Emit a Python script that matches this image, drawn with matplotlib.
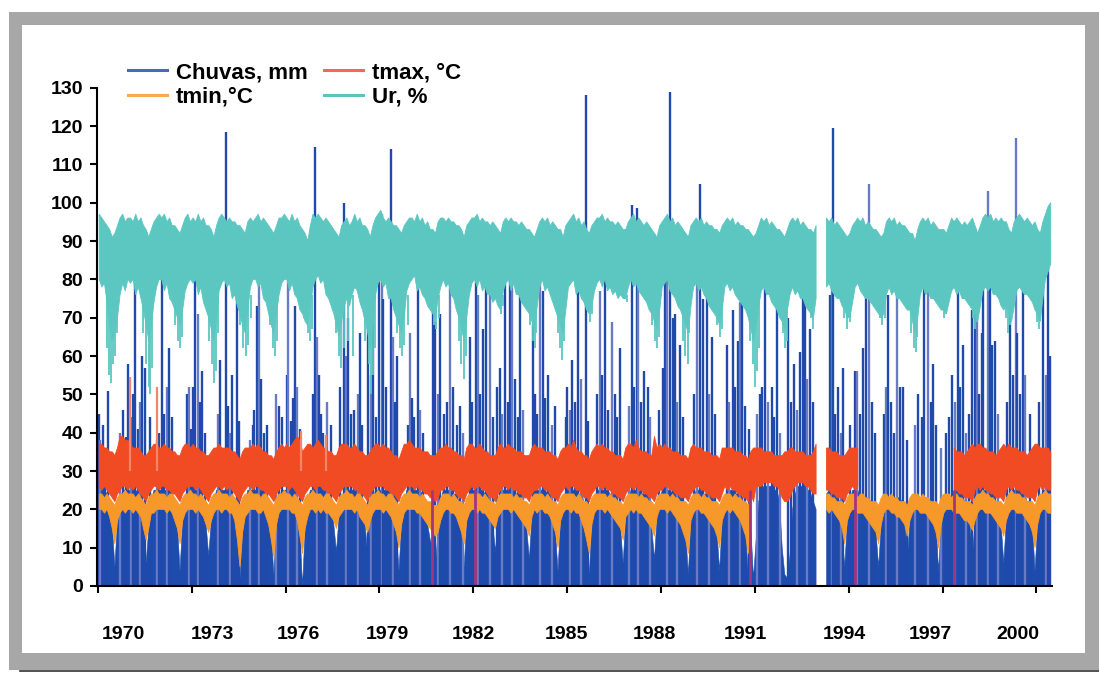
import numpy as np
import matplotlib.pyplot as plt
from matplotlib.patches import Rectangle
from matplotlib.lines import Line2D

plt.rcParams['font.family'] = ['Liberation Sans', 'DejaVu Sans']
plt.rcParams['font.weight'] = 'bold'

nan = np.nan

# monthly envelopes, one row per year (1970 ... 2000, last row jan-jun)
ur_low = [
    [80, 78, 79, 74, 68, 64, 66, 70, 76, 79, 77, 80],
    [79, 80, 76, 78, 75, 72, 68, 64, 68, 74, 78, 80],
    [80, 77, 79, 75, 74, 72, 70, 68, 72, 77, 79, 80],
    [79, 80, 76, 78, 74, 72, 70, 67, 64, 70, 77, 79],
    [80, 78, 79, 75, 76, 73, 71, 68, 66, 72, 78, 80],
    [80, 78, 79, 75, 74, 71, 68, 66, 71, 76, 79, 80],
    [80, 77, 79, 76, 75, 72, 71, 69, 68, 73, 78, 80],
    [81, 79, 80, 76, 75, 73, 71, 68, 65, 69, 73, 75],
    [73, 76, 78, 77, 74, 72, 69, 66, 62, 68, 76, 79],
    [80, 78, 79, 75, 75, 72, 70, 68, 66, 70, 77, 79],
    [80, 81, 77, 78, 76, 75, 73, 72, 71, 70, 75, 78],
    [80, 78, 79, 76, 75, 72, 70, 67, 64, 70, 76, 79],
    [80, 78, 80, 77, 78, 76, 76, 74, 75, 73, 72, 77],
    [79, 80, 77, 79, 76, 76, 74, 73, 72, 71, 69, 67],
    [73, 78, 80, 77, 78, 76, 74, 72, 70, 68, 66, 72],
    [78, 79, 80, 76, 77, 75, 74, 72, 71, 73, 77, 79],
    [80, 78, 80, 77, 78, 76, 77, 75, 76, 75, 75, 78],
    [80, 78, 79, 77, 76, 75, 74, 72, 71, 69, 67, 72],
    [78, 79, 80, 77, 76, 75, 73, 72, 70, 68, 66, 73],
    [78, 79, 77, 78, 76, 75, 73, 72, 71, 70, 68, 72],
    [78, 79, 77, 78, 76, 75, 74, 73, 72, 70, 67, 64],
    [68, 73, 77, 78, 76, 76, 74, 73, 72, 70, 69, 67],
    [72, 76, 78, 76, 77, 75, 75, 73, 72, 71, 70, 75],
    [nan, nan, nan, 78, 79, 77, 76, 75, 75, 73, 72, 70],
    [70, 74, 78, 79, 77, 76, 75, 75, 74, 73, 72, 71],
    [70, 71, 76, 78, 76, 77, 75, 75, 74, 73, 72, 72],
    [69, 66, 70, 76, 78, 76, 77, 75, 75, 74, 73, 72],
    [72, 71, 74, 77, 78, 76, 77, 75, 75, 74, 73, 72],
    [71, 69, 73, 77, 78, 77, 78, 76, 76, 75, 73, 72],
    [73, 71, 69, 73, 77, 78, 77, 76, 76, 75, 74, 72],
    [71, 69, 75, 80, 82, 84],
]
ur_high = [
    [97, 96, 95, 94, 93, 91, 92, 94, 96, 97, 95, 96],
    [96, 95, 97, 95, 96, 94, 93, 91, 93, 95, 96, 97],
    [96, 97, 95, 96, 94, 94, 93, 92, 94, 96, 97, 95],
    [96, 95, 97, 95, 96, 94, 94, 93, 91, 94, 96, 97],
    [96, 95, 96, 95, 95, 94, 94, 93, 92, 95, 96, 95],
    [96, 97, 95, 96, 95, 94, 93, 92, 94, 96, 96, 97],
    [96, 95, 97, 95, 96, 94, 93, 92, 90, 94, 97, 96],
    [97, 96, 95, 96, 95, 94, 93, 92, 91, 94, 95, 96],
    [94, 95, 97, 95, 96, 94, 94, 93, 91, 94, 96, 97],
    [98, 96, 95, 96, 95, 94, 94, 93, 92, 94, 95, 96],
    [96, 95, 97, 95, 96, 94, 95, 93, 93, 92, 95, 96],
    [96, 95, 96, 95, 95, 94, 94, 93, 91, 94, 95, 96],
    [96, 97, 95, 96, 95, 95, 94, 95, 94, 93, 92, 95],
    [96, 95, 96, 95, 95, 94, 95, 94, 93, 93, 92, 91],
    [93, 95, 96, 95, 96, 94, 95, 94, 93, 93, 91, 94],
    [95, 96, 97, 95, 96, 94, 95, 93, 92, 94, 95, 96],
    [96, 97, 95, 96, 95, 95, 94, 95, 94, 93, 93, 95],
    [96, 97, 95, 96, 95, 94, 95, 94, 93, 92, 91, 94],
    [95, 96, 97, 95, 96, 94, 95, 94, 93, 92, 91, 94],
    [95, 96, 95, 96, 94, 95, 94, 94, 93, 93, 92, 94],
    [95, 96, 95, 96, 94, 95, 94, 94, 93, 93, 92, 91],
    [92, 94, 96, 95, 96, 94, 95, 94, 93, 93, 92, 91],
    [93, 95, 96, 95, 96, 94, 95, 94, 93, 93, 92, 94],
    [nan, nan, nan, 96, 95, 96, 94, 95, 94, 93, 92, 91],
    [92, 94, 95, 96, 95, 96, 94, 95, 94, 93, 93, 92],
    [91, 92, 95, 96, 95, 96, 94, 95, 94, 94, 93, 92],
    [92, 90, 93, 95, 96, 95, 96, 94, 95, 94, 93, 93],
    [93, 92, 94, 96, 95, 96, 95, 94, 95, 94, 95, 96],
    [94, 92, 94, 96, 97, 96, 97, 95, 96, 95, 96, 95],
    [95, 93, 92, 95, 96, 97, 96, 95, 96, 95, 94, 95],
    [93, 92, 95, 97, 99, 100],
]
tmax_high = [
    [37, 37, 36, 36, 35, 35, 34, 36, 39, 39, 38, 38],
    [37, 36, 36, 36, 35, 34, 34, 35, 36, 37, 37, 36],
    [36, 37, 36, 36, 35, 35, 34, 34, 36, 37, 37, 36],
    [37, 36, 36, 35, 35, 34, 34, 35, 36, 36, 37, 36],
    [36, 36, 36, 35, 35, 34, 33, 35, 36, 36, 36, 37],
    [36, 37, 36, 35, 35, 34, 34, 33, 35, 36, 37, 36],
    [37, 36, 37, 38, 39, 38, 35, 36, 37, 37, 36, 37],
    [38, 37, 36, 36, 35, 35, 34, 34, 36, 37, 37, 37],
    [36, 36, 37, 36, 35, 35, 34, 34, 35, 36, 37, 37],
    [36, 37, 36, 36, 35, 34, 34, 33, 35, 37, 37, 38],
    [37, 36, 36, 36, 35, 35, 35, 34, 34, 34, 35, 36],
    [36, 37, 36, 36, 35, 35, 34, 34, 33, 36, 37, 37],
    [36, 36, 37, 36, 35, 35, 34, 34, 34, 36, 37, 36],
    [36, 37, 36, 36, 35, 35, 35, 34, 34, 34, 36, 37],
    [36, 36, 36, 35, 35, 35, 34, 34, 33, 35, 36, 36],
    [37, 36, 38, 36, 35, 35, 34, 34, 33, 35, 36, 37],
    [36, 37, 36, 36, 35, 35, 34, 34, 34, 33, 36, 37],
    [37, 36, 38, 36, 35, 35, 35, 34, 34, 39, 36, 37],
    [36, 37, 36, 36, 35, 35, 35, 34, 34, 34, 33, 36],
    [37, 36, 36, 36, 35, 35, 35, 34, 34, 34, 33, 36],
    [36, 36, 36, 36, 35, 35, 35, 34, 34, 33, 35, 36],
    [36, 36, 36, 35, 35, 35, 35, 34, 34, 34, 34, 35],
    [35, 36, 36, 35, 35, 35, 35, 34, 34, 34, 35, 37],
    [nan, nan, nan, 36, 36, 35, 35, 35, 34, 34, 34, 35],
    [36, 36, 36, 36, nan, nan, nan, nan, nan, nan, nan, nan],
    [nan, nan, nan, nan, nan, nan, nan, nan, nan, nan, nan, nan],
    [nan, nan, nan, nan, nan, nan, nan, nan, nan, nan, nan, nan],
    [nan, nan, nan, nan, 36, 35, 35, 35, 34, 35, 36, 37],
    [36, 37, 37, 36, 36, 35, 35, 35, 34, 35, 36, 37],
    [36, 37, 36, 36, 36, 35, 35, 35, 34, 35, 36, 37],
    [37, 36, 36, 36, 36, 35],
]
tmax_low = [
    [26, 25, 26, 25, 24, 23, 22, 24, 25, 26, 26, 25],
    [26, 25, 26, 25, 24, 23, 22, 24, 25, 26, 26, 25],
    [26, 26, 25, 25, 24, 24, 23, 22, 24, 25, 26, 26],
    [26, 25, 26, 25, 24, 23, 22, 24, 25, 26, 26, 25],
    [26, 25, 26, 25, 24, 23, 22, 24, 25, 26, 26, 25],
    [26, 26, 25, 25, 24, 24, 23, 22, 24, 25, 26, 26],
    [26, 25, 26, 25, 24, 23, 22, 24, 25, 26, 26, 25],
    [26, 26, 25, 25, 24, 24, 23, 22, 24, 25, 26, 26],
    [26, 26, 25, 25, 24, 24, 23, 22, 24, 25, 26, 26],
    [26, 26, 25, 25, 24, 24, 23, 22, 24, 25, 26, 26],
    [26, 25, 26, 25, 25, 24, 24, 23, 23, 22, 23, 25],
    [25, 26, 26, 25, 25, 24, 23, 23, 22, 24, 25, 26],
    [25, 26, 26, 25, 25, 24, 23, 23, 22, 24, 25, 26],
    [26, 25, 26, 25, 25, 24, 24, 23, 23, 22, 24, 25],
    [25, 26, 26, 25, 25, 24, 23, 23, 22, 24, 25, 26],
    [25, 26, 26, 25, 25, 24, 23, 23, 22, 24, 25, 26],
    [26, 25, 26, 25, 25, 24, 24, 23, 23, 22, 24, 25],
    [26, 25, 26, 25, 25, 24, 24, 23, 23, 22, 24, 25],
    [25, 26, 26, 25, 25, 24, 24, 23, 23, 23, 22, 24],
    [25, 26, 26, 25, 25, 24, 24, 23, 23, 23, 22, 24],
    [26, 25, 26, 25, 25, 24, 24, 23, 23, 22, 24, 22],
    [26, 26, 26, 27, 27, 27, 27, 26, 26, 25, 23, 22],
    [22, 23, 25, 26, 27, 27, 27, 26, 26, 25, 24, 24],
    [nan, nan, nan, 25, 25, 24, 24, 23, 23, 23, 22, 24],
    [25, 26, 25, 26, nan, nan, nan, nan, nan, nan, nan, nan],
    [nan, nan, nan, nan, nan, nan, nan, nan, nan, nan, nan, nan],
    [nan, nan, nan, nan, nan, nan, nan, nan, nan, nan, nan, nan],
    [nan, nan, nan, nan, 25, 25, 24, 24, 23, 23, 23, 22],
    [25, 26, 25, 26, 25, 25, 24, 24, 23, 23, 23, 22],
    [25, 26, 25, 26, 25, 25, 24, 24, 23, 23, 23, 22],
    [25, 26, 25, 26, 25, 25],
]
tmin_high = [
    [24, 24, 23, 24, 23, 22, 21, 23, 24, 24, 25, 24],
    [24, 24, 23, 24, 23, 22, 21, 23, 24, 24, 25, 24],
    [24, 24, 23, 24, 24, 23, 22, 21, 23, 24, 24, 25],
    [24, 24, 23, 24, 23, 22, 21, 23, 24, 24, 25, 24],
    [24, 24, 23, 24, 23, 22, 21, 23, 24, 24, 25, 24],
    [24, 24, 23, 24, 24, 23, 22, 21, 23, 24, 24, 25],
    [24, 24, 23, 24, 23, 22, 21, 23, 24, 24, 25, 24],
    [24, 24, 23, 24, 24, 23, 22, 21, 23, 24, 24, 25],
    [24, 24, 23, 24, 24, 23, 22, 21, 23, 24, 24, 25],
    [24, 24, 23, 24, 24, 23, 22, 21, 23, 24, 24, 25],
    [24, 24, 24, 23, 24, 23, 22, 22, 21, 21, 21, 23],
    [24, 24, 24, 23, 24, 23, 22, 22, 21, 23, 24, 24],
    [24, 24, 24, 23, 24, 23, 22, 22, 21, 23, 24, 24],
    [24, 24, 24, 23, 24, 23, 23, 22, 22, 21, 23, 24],
    [24, 24, 24, 23, 24, 23, 22, 22, 21, 23, 24, 24],
    [24, 24, 24, 23, 24, 23, 22, 22, 21, 23, 24, 24],
    [24, 24, 24, 23, 24, 23, 23, 22, 22, 21, 23, 24],
    [24, 24, 24, 23, 24, 23, 23, 22, 22, 21, 23, 24],
    [24, 24, 24, 23, 24, 23, 23, 22, 22, 22, 21, 23],
    [24, 24, 24, 23, 24, 23, 23, 22, 22, 22, 21, 23],
    [24, 24, 24, 23, 24, 23, 23, 22, 22, 21, 23, nan],
    [nan, nan, nan, nan, nan, nan, nan, nan, nan, nan, nan, nan],
    [nan, nan, nan, nan, nan, nan, nan, nan, nan, nan, nan, nan],
    [nan, nan, nan, 24, 24, 23, 23, 22, 22, 22, 21, 23],
    [24, 24, 24, 23, 24, 24, 23, 23, 22, 22, 22, 21],
    [23, 24, 24, 23, 24, 23, 23, 22, 22, 22, 21, 23],
    [24, 24, 24, 23, 24, 23, 23, 22, 22, 22, 21, 23],
    [24, 24, 24, 23, 24, 24, 23, 23, 22, 22, 22, 21],
    [23, 24, 24, 25, 24, 24, 23, 23, 22, 22, 22, 21],
    [23, 24, 25, 24, 24, 24, 23, 23, 22, 22, 22, 21],
    [23, 24, 24, 25, 24, 24],
]
tmin_low = [
    [20, 20, 19, 20, 18, 15, 11, 17, 19, 20, 19, 20],
    [20, 19, 20, 19, 18, 15, 12, 15, 19, 19, 20, 20],
    [20, 20, 19, 20, 19, 17, 15, 11, 17, 19, 20, 20],
    [20, 19, 20, 19, 18, 16, 14, 17, 19, 20, 20, 19],
    [20, 20, 19, 19, 17, 12, 5, 14, 18, 19, 20, 20],
    [20, 19, 19, 20, 18, 16, 12, 7.5, 16, 19, 20, 20],
    [20, 20, 19, 19, 17, 13, 8.5, 15, 18, 20, 20, 19],
    [20, 19, 20, 19, 19, 18, 17, 15, 18, 19, 20, 20],
    [20, 20, 19, 20, 18, 17, 16, 14, 17, 19, 20, 20],
    [20, 19, 20, 19, 18, 16, 14, 10, 16, 19, 20, 20],
    [20, 20, 19, 19, 18, 17, 16, 15, 14, 13, 14, 17],
    [19, 20, 20, 19, 19, 18, 16, 14, 11, 17, 19, 20],
    [20, 19, 20, 19, 19, 18, 17, 16, 15, 18, 19, 20],
    [20, 20, 19, 20, 19, 18, 17, 16, 15, 13, 18, 20],
    [19, 20, 20, 19, 19, 18, 16, 14, 10, 17, 19, 20],
    [20, 19, 20, 19, 19, 17, 15, 12, 8.5, 16, 19, 20],
    [20, 20, 19, 20, 19, 18, 17, 16, 15, 12, 18, 19],
    [20, 19, 20, 19, 19, 18, 17, 16, 15, 13, 18, 20],
    [20, 20, 19, 20, 19, 18, 17, 16, 14, 12, 8.5, 17],
    [19, 20, 20, 19, 19, 18, 17, 16, 15, 13, 10, 17],
    [19, 20, 19, 20, 19, 18, 17, 15, 13, 8.5, 15, nan],
    [nan, nan, nan, nan, nan, nan, nan, nan, nan, nan, nan, nan],
    [nan, nan, nan, nan, nan, nan, nan, nan, nan, nan, nan, nan],
    [nan, nan, nan, 20, 19, 20, 19, 18, 17, 15, 11, 17],
    [19, 20, 20, 19, 19, 19, 18, 17, 16, 15, 14, 11],
    [16, 19, 20, 20, 19, 19, 18, 18, 17, 16, 13, 17],
    [19, 20, 20, 19, 19, 19, 18, 17, 16, 14, 10, 16],
    [19, 20, 20, 20, 19, 19, 19, 18, 17, 17, 16, 14.5],
    [17, 19, 20, 20, 19, 19, 19, 18, 17, 16, 15, 13],
    [17, 19, 20, 20, 19, 19, 19, 18, 17, 16, 14, 10],
    [16, 19, 20, 20, 19, 19],
]
# solid dark-blue floor of the rain columns
rain_base = [
    [25, 25, 25, 24, 22, 16, 5, 17, 22, 25, 25, 25],
    [25, 25, 25, 24, 22, 16, 6, 15, 22, 25, 25, 25],
    [25, 25, 25, 25, 24, 22, 16, 4, 17, 22, 25, 25],
    [25, 25, 25, 24, 22, 16, 8, 17, 22, 25, 25, 25],
    [25, 25, 25, 24, 22, 12, 2, 14, 22, 25, 25, 25],
    [25, 25, 25, 25, 24, 22, 14, 3, 16, 22, 25, 25],
    [25, 25, 25, 24, 22, 14, 0, 15, 22, 25, 25, 25],
    [25, 25, 25, 25, 24, 22, 16, 9, 18, 22, 25, 25],
    [25, 25, 25, 25, 24, 22, 16, 8, 17, 22, 25, 25],
    [25, 25, 25, 25, 24, 22, 14, 4, 16, 22, 25, 25],
    [25, 25, 25, 25, 24, 22, 16, 12, 10, 6, 14, 22],
    [25, 25, 25, 25, 24, 24, 22, 14, 5, 17, 22, 25],
    [25, 25, 25, 25, 24, 24, 22, 16, 9, 18, 22, 25],
    [25, 25, 25, 25, 24, 24, 24, 22, 15, 7, 18, 22],
    [25, 25, 25, 25, 24, 24, 22, 14, 4, 17, 22, 25],
    [25, 25, 25, 25, 24, 24, 22, 12, 3, 16, 22, 25],
    [25, 25, 25, 25, 24, 24, 24, 22, 15, 6, 18, 22],
    [25, 25, 25, 25, 24, 24, 24, 22, 15, 7, 18, 22],
    [25, 25, 25, 25, 24, 24, 24, 24, 22, 14, 3, 17],
    [22, 25, 25, 25, 24, 24, 24, 24, 22, 14, 4, 17],
    [22, 25, 25, 25, 24, 24, 24, 22, 14, 3, 15, 2],
    [12, 22, 25, 26, 26, 26, 26, 25, 25, 22, 10, 3],
    [2, 8, 20, 24, 26, 26, 26, 25, 25, 24, 22, 20],
    [nan, nan, nan, 24, 25, 25, 24, 24, 22, 14, 5, 17],
    [22, 25, 25, 25, 23, 23, 23, 23, 22, 20, 14, 5],
    [16, 22, 23, 23, 23, 23, 23, 23, 22, 18, 7, 17],
    [22, 23, 23, 23, 23, 23, 23, 22, 22, 16, 4, 16],
    [22, 23, 23, 23, 25, 25, 25, 24, 22, 22, 16, 8],
    [17, 22, 25, 25, 25, 25, 24, 24, 22, 22, 16, 6],
    [17, 22, 25, 25, 25, 25, 24, 24, 22, 22, 16, 4],
    [16, 22, 25, 25, 25, 25],
]

# single dry days below the humidity band
ur_dip_t = [
    1970.30, 1970.36, 1970.42, 1970.48, 1970.55, 1970.62,
    1971.45, 1971.55, 1971.62, 1971.68, 1971.74,
    1972.45, 1972.55, 1972.63, 1972.70,
    1973.55, 1973.65, 1973.72, 1973.78, 1973.85,
    1974.55, 1974.65, 1974.72, 1974.80, 1974.88,
    1975.50, 1975.60, 1975.66, 1975.72,
    1976.60, 1976.70, 1976.77, 1976.84,
    1977.60, 1977.70, 1977.78, 1977.86, 1978.00, 1978.15,
    1978.55, 1978.65, 1978.72, 1978.78, 1978.85,
    1979.55, 1979.65, 1979.72, 1979.80, 1979.90,
    1980.65, 1980.75, 1980.82, 1980.90,
    1981.55, 1981.62, 1981.70, 1981.77,
    1982.80, 1982.88, 1982.95,
    1983.82, 1983.90, 1983.96, 1984.02,
    1984.70, 1984.78, 1984.84, 1984.90,
    1985.65, 1985.73, 1985.80,
    1986.85, 1986.92,
    1987.72, 1987.80, 1987.86, 1987.93,
    1988.70, 1988.78, 1988.85, 1988.90,
    1989.80, 1989.88, 1989.95,
    1990.85, 1990.93, 1991.00, 1991.06, 1991.12,
    1991.90, 1991.97, 1992.04,
    1992.80, 1992.87,
    1993.85, 1993.95, 1994.05,
    1995.00, 1995.08, 1995.15,
    1996.00, 1996.08, 1996.14, 1996.20,
    1996.98, 1997.05, 1997.12,
    1997.98, 1998.05, 1998.10,
    1999.02, 1999.08, 1999.15,
    2000.03, 2000.10,
]
ur_dip_v = [
    62, 55, 53, 58, 60, 66,
    66, 58, 52, 50, 57,
    68, 64, 62, 65,
    64, 58, 53, 56, 66,
    68, 62, 60, 63, 70,
    68, 62, 60, 64,
    70, 66, 64, 67,
    66, 60, 57, 62, 64, 60,
    64, 58, 50, 55, 62,
    66, 62, 60, 63, 68,
    72, 68, 67, 70,
    64, 58, 54, 60,
    74, 71, 73,
    68, 64, 62, 66,
    66, 62, 59, 64,
    72, 69, 71,
    75, 74,
    68, 64, 62, 65,
    64, 60, 58, 66,
    68, 65, 67,
    64, 58, 52, 56, 62,
    66, 62, 64,
    70, 67,
    70, 67, 69,
    70, 68, 70,
    66, 62, 61, 65,
    72, 70, 71,
    70, 67, 69,
    70, 66, 68,
    69, 67,
]

# single rain days that stand out above the temperature bands
rain_t = [
    1970.03, 1970.08, 1970.15, 1970.22, 1970.32, 1970.70, 1970.80, 1970.90, 1970.96,
    1971.05, 1971.12, 1971.18, 1971.27, 1971.34, 1971.40, 1971.50, 1971.66, 1971.90, 1971.95,
    1972.05, 1972.12, 1972.20, 1972.28, 1972.36, 1972.85, 1972.92, 1972.98,
    1973.04, 1973.10, 1973.20, 1973.26, 1973.32, 1973.42, 1973.85, 1973.90,
    1974.08, 1974.15, 1974.22, 1974.30, 1974.44, 1974.50, 1974.85, 1974.95,
    1975.00, 1975.10, 1975.16, 1975.22, 1975.30, 1975.40, 1975.70, 1975.80, 1975.90,
    1976.04, 1976.08, 1976.16, 1976.24, 1976.30, 1976.35, 1976.45, 1976.88, 1976.94,
    1977.00, 1977.06, 1977.12, 1977.20, 1977.32, 1977.45, 1977.74, 1977.87, 1977.93,
    1978.00, 1978.08, 1978.20, 1978.30, 1978.38, 1978.45, 1978.64, 1978.72, 1978.80, 1978.90,
    1979.00, 1979.07, 1979.10, 1979.20, 1979.36, 1979.43, 1979.50, 1979.56, 1979.90, 1979.98,
    1980.05, 1980.12, 1980.23, 1980.30, 1980.40, 1980.71, 1980.78, 1980.86, 1980.94,
    1981.05, 1981.15, 1981.26, 1981.34, 1981.48, 1981.58, 1981.67, 1981.90, 1981.96,
    1982.10, 1982.15, 1982.22, 1982.31, 1982.40, 1982.54, 1982.62, 1982.76, 1982.85, 1982.92,
    1983.02, 1983.10, 1983.18, 1983.24, 1983.32, 1983.42, 1983.50, 1983.60, 1983.90, 1983.96,
    1984.05, 1984.12, 1984.23, 1984.30, 1984.40, 1984.50, 1984.60, 1984.95,
    1985.00, 1985.08, 1985.16, 1985.25, 1985.35, 1985.45, 1985.60, 1985.68, 1985.95,
    1986.05, 1986.12, 1986.21, 1986.30, 1986.43, 1986.52, 1986.60, 1986.70, 1986.98,
    1987.07, 1987.13, 1987.24, 1987.27, 1987.35, 1987.45, 1987.59, 1987.65, 1987.95,
    1988.05, 1988.12, 1988.20, 1988.30, 1988.39, 1988.45, 1988.52, 1988.61, 1988.70,
    1989.05, 1989.15, 1989.25, 1989.35, 1989.47, 1989.55, 1989.63, 1989.72,
    1990.10, 1990.18, 1990.30, 1990.38, 1990.47, 1990.53, 1990.60, 1990.70, 1990.80,
    1991.08, 1991.15, 1991.23, 1991.32, 1991.42, 1991.55, 1991.62, 1991.70, 1991.80,
    1992.07, 1992.15, 1992.25, 1992.35, 1992.45, 1992.55, 1992.60, 1992.68, 1992.77, 1992.85,
    1993.40, 1993.47, 1993.49, 1993.56, 1993.65, 1993.75, 1993.83,
    1994.05, 1994.20, 1994.27, 1994.35, 1994.47, 1994.55, 1994.66, 1994.75, 1994.85,
    1995.12, 1995.20, 1995.27, 1995.35, 1995.45, 1995.55, 1995.65, 1995.75, 1995.85,
    1996.12, 1996.22, 1996.35, 1996.42, 1996.55, 1996.62, 1996.70, 1996.80, 1996.95,
    1997.12, 1997.20, 1997.30, 1997.40, 1997.50, 1997.57, 1997.66, 1997.75, 1997.85, 1997.95,
    1998.03, 1998.10, 1998.18, 1998.27, 1998.30, 1998.44, 1998.52, 1998.59, 1998.69, 1998.78,
    1999.05, 1999.15, 1999.25, 1999.35, 1999.39, 1999.48, 1999.58, 1999.65, 1999.80,
    2000.08, 2000.20, 2000.30, 2000.38, 2000.45,
]
rain_mm = [
    45, 38, 42, 36, 51, 40, 46, 39, 58,
    44, 50, 85, 41, 48, 60, 57, 44, 38, 40,
    85, 45, 52, 62, 44, 50, 52, 41,
    52, 85, 71, 48, 56, 40, 45, 59,
    118.5, 47, 40, 55, 85, 43, 38, 42,
    46, 73, 85, 54, 40, 42, 50, 47, 44,
    55, 85, 43, 49, 73, 52, 41, 50, 114.5,
    65, 55, 45, 40, 48, 42, 52, 100, 60,
    70, 45, 46, 50, 66, 42, 68, 55, 85, 44,
    85, 97, 75, 52, 114, 65, 48, 60, 42, 66,
    49, 44, 79, 46, 40, 85, 69, 50, 71,
    45, 48, 85, 52, 42, 47, 40, 65, 48,
    85, 76, 50, 67, 85, 76, 44, 52, 57, 45,
    85, 48, 85, 80, 54, 44, 85, 46, 68, 50,
    45, 85, 77, 49, 55, 42, 47, 44,
    52, 46, 59, 48, 85, 54, 128, 43, 50,
    77, 55, 85, 46, 69, 50, 44, 62, 47,
    99.5, 52, 98.5, 85, 48, 56, 52, 44, 46,
    57, 85, 85, 129, 70, 71, 48, 63, 44,
    50, 85, 105, 75, 76, 50, 65, 45,
    63, 48, 72, 52, 64, 74, 85, 47, 41,
    45, 50, 52, 85, 48, 52, 44, 85, 40,
    70, 48, 58, 46, 61, 85, 79, 54, 67, 48,
    76, 85, 119.6, 45, 52, 40, 57,
    42, 56, 56, 45, 62, 85, 105, 48, 40,
    45, 52, 76, 48, 40, 85, 52, 52, 38,
    42, 50, 44, 85, 80, 48, 58, 42, 36,
    40, 44, 55, 48, 83, 52, 63, 40, 45, 72,
    85, 75, 50, 66, 78, 103, 85, 63, 64, 45,
    48, 85, 55, 117, 66, 50, 85, 55, 45,
    48, 79, 55, 85, 60,
]

# odd tmax readings (spikes above the band and drops to zero)
tmax_odd_t = [1971.02, 1971.90, 1976.50, 1977.30, 1980.67, 1982.06, 1990.85, 1994.20, 1997.37]
tmax_odd_v = [54.5, 52, 40.5, 39.5, 0, 0, 0, 0, 0]

tick_years = list(range(1970, 2001, 3))
label_x = [1970.80, 1973.65, 1976.40, 1979.25, 1982.00, 1984.97,
           1987.79, 1990.70, 1993.87, 1996.62, 1999.40]


def flat(rows):
    return np.array([v for r in rows for v in r], dtype=float)


ur_lo, ur_hi = flat(ur_low), flat(ur_high)
tx_lo, tx_hi = flat(tmax_low), flat(tmax_high)
tn_lo, tn_hi = flat(tmin_low), flat(tmin_high)
base = flat(rain_base)
n = len(ur_lo)
assert all(len(a) == n for a in [ur_hi, tx_lo, tx_hi, tn_lo, tn_hi, base])
t = 1970 + (np.arange(n) + 0.5) / 12

W, H = 1099, 673
fig = plt.figure(figsize=(W / 100, H / 100), dpi=100)
fig.patches.append(Rectangle((9 / W, 1 - 670 / H), (W - 9) / W, 658 / H,
                             transform=fig.transFigure, fc='#a7a7a7', ec='none', zorder=-10))
fig.patches.append(Rectangle((22 / W, 1 - 653 / H), (1085 - 22) / W, 628 / H,
                             transform=fig.transFigure, fc='white', ec='none', zorder=-9))
fig.add_artist(Line2D([20 / W, 1], [1 - 671 / H] * 2, transform=fig.transFigure,
                      color='#333333', lw=1.2))

ax = fig.add_axes([97 / W, 1 - 586 / H, (1052 - 97) / W, (586 - 87.7) / H])
ax.set_facecolor('white')
ax.set_xlim(1969.97, 2000.5)
ax.set_ylim(0, 130)

blue = '#1d4cad'
cyan = '#5cc6c1'
ax.fill_between(t, 0, base, color=blue, lw=0.4, zorder=1)
cols = ['#6a7bc6' if i % 4 == 1 else '#1f4aab' for i in range(len(rain_t))]
ax.vlines(rain_t, 0, rain_mm, colors=cols, lw=1.7, zorder=2)
ax.fill_between(t, tx_lo, tx_hi, color='#f04b22', lw=0.6, zorder=3)
for x, v in zip(tmax_odd_t, tmax_odd_v):
    if v > 30:
        ax.vlines(x, 30, v, colors='#f4876a', lw=1.6, zorder=3)
    else:
        ax.vlines(x, v, 25, colors='#a1367f', lw=2.0, zorder=4.5)
ax.fill_between(t, tn_lo, tn_hi, color='#f7982b', lw=0.6, zorder=4)
ax.fill_between(t, ur_lo, ur_hi, color=cyan, lw=0.6, zorder=5)
ax.vlines(ur_dip_t, ur_dip_v, 76, colors=cyan, lw=1.3, zorder=5)

for s in ['top', 'right']:
    ax.spines[s].set_visible(False)
for s in ['left', 'bottom']:
    ax.spines[s].set_linewidth(1.5)
    ax.spines[s].set_zorder(6)

ax.xaxis.remove_overlapping_locs = False
ax.set_yticks(range(0, 131, 10))
ax.tick_params(axis='y', labelsize=14, length=5, width=1.5, pad=5)
ax.set_xticks(tick_years)
ax.set_xticklabels([])
ax.tick_params(axis='x', which='major', length=5, width=1.5)
ax.set_xticks(label_x, minor=True)
ax.set_xticklabels([str(y) for y in tick_years], minor=True)
ax.tick_params(axis='x', which='minor', length=0, pad=29, labelsize=14)

handles = [Line2D([], [], color='#4a68c0', lw=2.2),
           Line2D([], [], color='#f6ab4c', lw=2.2),
           Line2D([], [], color='#f06a5a', lw=2.2),
           Line2D([], [], color='#5cc4bf', lw=2.2)]
labels = ['Chuvas, mm', 'tmin,°C', 'tmax, °C', 'Ur, %']
fig.legend(handles, labels, ncol=2, loc='upper left',
           bbox_to_anchor=(128 / W, 1 - 62 / H), frameon=False,
           borderpad=0, borderaxespad=0, handlelength=1.75, handletextpad=0.4,
           columnspacing=0.75, labelspacing=0.15,
           prop={'size': 16, 'weight': 'bold'})

fig.savefig('out.png', dpi=100, facecolor='white')
